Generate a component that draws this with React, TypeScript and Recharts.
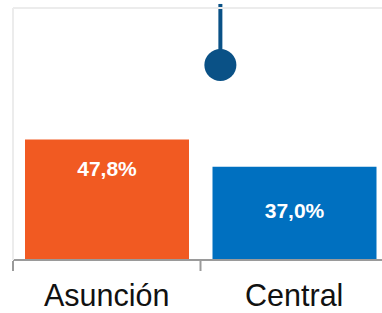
import React from 'react'
import {
  ComposedChart,
  Bar,
  Cell,
  XAxis,
  YAxis,
  ReferenceLine,
  ReferenceDot,
  LabelList,
} from 'recharts'

const regions = ['Asunción', 'Central']
const shares = [47.8, 37.0]
const barColors = ['#f15a22', '#0070c0']

// lollipop marker (x in band units: 0..2 spans both categories)
const markerX = [1.106]
const markerValue = [77.4]
const markerStemTop = [101.6]

// band edges get tick marks, band centres get the region names
const axisTicks = [0, 0.5, 1, 1.5, 2]

const data = regions.map((region, i) => ({ pos: i + 0.5, region, share: shares[i] }))

const FONT = 'Liberation Sans, Arial, Helvetica, sans-serif'

const fmt = (v: number) => v.toFixed(1).replace('.', ',') + '%'

// eslint-disable-next-line @typescript-eslint/no-explicit-any
const BarLabel = (props: any) => {
  const { x, y, width, height, value, index } = props
  const cx = x + width / 2
  const ty = index === 0 ? y + 36 : y + height / 2 + 5
  return (
    <text
      x={cx}
      y={ty}
      textAnchor="middle"
      fill="#ffffff"
      fontFamily={FONT}
      fontWeight={700}
      fontSize={21}
    >
      {fmt(Number(value))}
    </text>
  )
}

// eslint-disable-next-line @typescript-eslint/no-explicit-any
const AxisTick = (props: any) => {
  const { x, payload } = props
  const v = Number(payload.value)
  if (Number.isInteger(v)) {
    return <line x1={x} x2={x} y1={261} y2={271} stroke="#9a9a9a" strokeWidth={2} />
  }
  return (
    <text x={x} y={306} textAnchor="middle" fill="#111111" fontFamily={FONT} fontSize={30.5}>
      {regions[Math.floor(v)]}
    </text>
  )
}

export default function App() {
  return (
    <div
      style={{
        position: 'fixed',
        left: 0,
        top: 0,
        width: 382,
        height: 313,
        overflow: 'hidden',
        background: '#fff',
      }}
    >
      <ComposedChart
        width={400}
        height={313}
        data={data}
        margin={{ top: 8, right: 12, bottom: 0, left: 12 }}
      >
        <XAxis
          dataKey="pos"
          type="number"
          domain={[0, 2]}
          allowDataOverflow
          ticks={axisTicks}
          interval={0}
          height={53}
          axisLine={{ stroke: '#9a9a9a', strokeWidth: 2 }}
          tickLine={false}
          tick={<AxisTick />}
        />
        <YAxis
          domain={[0, 100]}
          width={1}
          tick={false}
          tickLine={false}
          axisLine={{ stroke: '#ececec', strokeWidth: 2 }}
          allowDataOverflow
        />
        <Bar dataKey="share" barSize={164} isAnimationActive={false}>
          {data.map((d, i) => (
            <Cell key={d.region} fill={barColors[i]} />
          ))}
          <LabelList dataKey="share" content={<BarLabel />} />
        </Bar>
        <ReferenceLine
          segment={[
            { x: markerX[0], y: markerValue[0] },
            { x: markerX[0], y: markerStemTop[0] },
          ]}
          stroke="#0a5186"
          strokeWidth={4}
          ifOverflow="visible"
        />
        <ReferenceLine y={100} stroke="#ececec" strokeWidth={2} />
        <ReferenceDot
          x={markerX[0]}
          y={markerValue[0]}
          r={16}
          fill="#0a5186"
          stroke="none"
        />
      </ComposedChart>
    </div>
  )
}
